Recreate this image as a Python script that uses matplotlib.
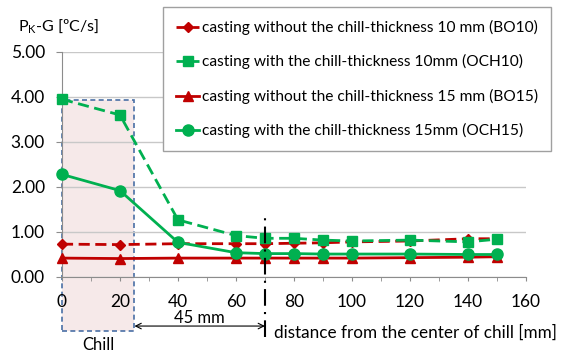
import matplotlib
matplotlib.use("Agg")
import matplotlib.pyplot as plt
from matplotlib.patches import Rectangle
from matplotlib.ticker import MultipleLocator

plt.rcParams['font.family'] = ['Lato', 'DejaVu Sans']
plt.rcParams['mathtext.fontset'] = 'custom'
plt.rcParams['mathtext.rm'] = 'Lato'

# data
distance = [0, 20, 40, 60, 70, 80, 90, 100, 120, 140, 150]
bo10 = [0.73, 0.72, 0.74, 0.74, 0.74, 0.75, 0.76, 0.78, 0.80, 0.85, 0.85]
och10 = [3.95, 3.60, 1.27, 0.92, 0.86, 0.86, 0.82, 0.80, 0.82, 0.78, 0.84]
bo15 = [0.42, 0.41, 0.42, 0.42, 0.42, 0.42, 0.42, 0.42, 0.43, 0.44, 0.45]
och15 = [2.28, 1.92, 0.77, 0.54, 0.52, 0.52, 0.51, 0.51, 0.51, 0.50, 0.50]

labels = ["casting without the chill-thickness 10 mm (BO10)",
          "casting with the chill-thickness 10mm (OCH10)",
          "casting without the chill-thickness 15 mm (BO15)",
          "casting with the chill-thickness 15mm (OCH15)"]

red = "#C00000"
green = "#00B050"

fig = plt.figure(figsize=(5.67, 3.53), dpi=100)
ax = fig.add_axes([0.1093, 0.2153, 0.8183, 0.6374])

# chill region
ax.add_patch(Rectangle((0, -1.2), 25, 5.13, facecolor="#f6e9e9", edgecolor="#4a6fa5",
                       linestyle=(0, (3, 2)), linewidth=1.2, clip_on=False, zorder=0.3))

l1, = ax.plot(distance, bo10, color=red, linestyle=(0, (4, 2)), linewidth=2,
              marker="D", markersize=5, clip_on=False, zorder=4)
l2, = ax.plot(distance, och10, color=green, linestyle=(0, (4, 2)), linewidth=2,
              marker="s", markersize=7, clip_on=False, zorder=4)
l3, = ax.plot(distance, bo15, color=red, linewidth=2,
              marker="^", markersize=7, clip_on=False, zorder=3)
l4, = ax.plot(distance, och15, color=green, linewidth=2,
              marker="o", markersize=8, clip_on=False, zorder=4)

# 45 mm marker
ax.plot([70, 70], [-1.33, 1.35], color="black", linestyle=(0, (8, 3, 1, 3)),
        linewidth=1.5, clip_on=False, zorder=5)
ax.annotate("", xy=(70, -1.09), xytext=(25, -1.09), xycoords="data",
            arrowprops=dict(arrowstyle="<->", color="black", lw=0.8,
                            shrinkA=0, shrinkB=0), annotation_clip=False)
ax.text(47.5, -0.92, "45 mm", ha="center", va="center", fontsize=12)
ax.text(12.5, -1.52, "Chill", ha="center", va="center", fontsize=12)
ax.text(73, -1.24, "distance from the center of chill [mm]", ha="left", va="center", fontsize=12.3)

ax.set_xlim(0, 160)
ax.set_ylim(0, 5)
ax.xaxis.set_major_locator(MultipleLocator(20))
ax.xaxis.set_minor_locator(MultipleLocator(10))
ax.yaxis.set_major_locator(MultipleLocator(1))
ax.yaxis.set_major_formatter(matplotlib.ticker.FormatStrFormatter("%.2f"))
ax.grid(axis="y", color="#c8c8c8", linewidth=1)
ax.set_axisbelow(True)
for s in ["top", "right"]:
    ax.spines[s].set_visible(False)
for s in ["left", "bottom"]:
    ax.spines[s].set_color("#8c8c8c")
ax.tick_params(axis="y", direction="out", length=4.3, pad=8, color="#8c8c8c", labelsize=12.5)
ax.tick_params(axis="x", which="major", direction="out", length=3, pad=9, color="#8c8c8c", labelsize=12.5)
ax.tick_params(axis="x", which="minor", direction="out", length=3, color="#8c8c8c")

fig.text(18 / 567, 1 - 27 / 353, r"P$_{\mathrm{K}}$-G [ºC/s]", ha="left", va="center", fontsize=11.5)

leg = fig.legend([l1, l2, l3, l4], labels, loc="upper left",
                 bbox_to_anchor=(163 / 567, 1 - 7 / 353), fontsize=11.2,
                 frameon=True, fancybox=False, framealpha=1, edgecolor="#a0a0a0",
                 handlelength=1.5, handletextpad=0.15, labelspacing=1.25, borderpad=0.83,
                 borderaxespad=0)
leg.get_frame().set_linewidth(1)

fig.savefig("out.png", dpi=100)
